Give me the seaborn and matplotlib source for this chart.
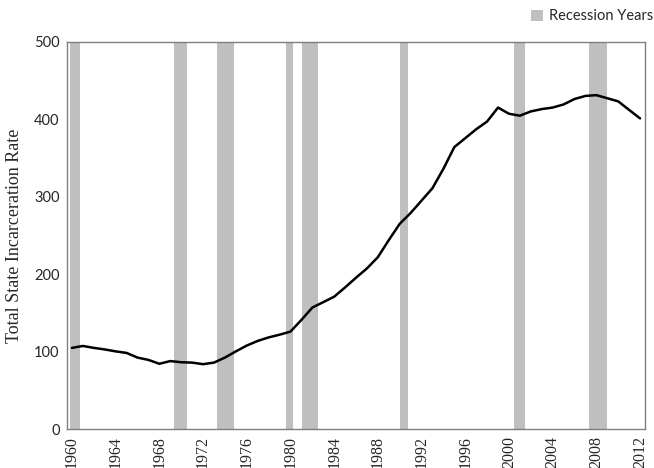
import numpy as np
import pandas as pd
import matplotlib
matplotlib.use('Agg')
import matplotlib.pyplot as plt
import seaborn as sns
from matplotlib.patches import Patch

# State incarceration rate
years = list(range(1960, 2013))
rate = [105, 107.5, 105, 103, 100.5, 98.5, 92.5, 89.5, 84.5, 88,
        86.5, 86, 84, 86, 92.5, 100.5, 108, 114, 118.5, 122,
        126, 141, 157, 164, 171, 183, 195.5, 207.5, 222, 244,
        265, 279, 295, 311, 336, 364, 375.5, 387, 397, 415,
        407, 404.5, 410, 413, 415, 419, 426, 430, 431, 427,
        423, 412, 401]

# recession periods (start, end) on the year axis
rec_start = [1959.78, 1969.30, 1973.27, 1979.58, 1981.04, 1990.01, 2000.47, 2007.30]
rec_end = [1960.76, 1970.52, 1974.79, 1980.25, 1982.51, 1990.77, 2001.50, 2008.95]

tick_years = list(range(1960, 2013, 4))
y_ticks = [0, 100, 200, 300, 400, 500]

df = pd.DataFrame({'year': years, 'rate': rate})

sns.set_style('white')
rec_color = '#bfbfbf'

fig = plt.figure(figsize=(6.54, 4.68), dpi=100)
ax = fig.add_axes([0.1017, 0.0827, 0.8853, 0.8283])

for s, e in zip(rec_start, rec_end):
    ax.axvspan(s, e, color=rec_color, lw=0, zorder=1)

sns.lineplot(data=df, x='year', y='rate', color='black', linewidth=1.8, ax=ax, zorder=3)

ax.set_xlim(1959.5, 2012.5)
ax.set_ylim(0, 500)
ax.set_xticks(tick_years)
ax.set_xticklabels([str(y) for y in tick_years], rotation=90,
                   family='Liberation Serif', fontsize=11.5)
ax.set_yticks(y_ticks)
ax.set_yticklabels([str(v) for v in y_ticks], family='Lato', fontsize=10.5)
ax.tick_params(axis='both', length=0, pad=5)
ax.set_xlabel('')
ax.set_ylabel('Total State Incarceration Rate', family='Liberation Serif',
              fontsize=13, labelpad=8)

for sp in ax.spines.values():
    sp.set_visible(True)
    sp.set_color('#7f7f7f')
    sp.set_linewidth(1.0)

handle = Patch(facecolor=rec_color, edgecolor='none')
fig.legend([handle], ['Recession Years'], loc='center left',
           bbox_to_anchor=(0.792, 0.965), frameon=False,
           prop={'family': 'Lato', 'size': 10.5},
           handlelength=0.8, handleheight=0.8, handletextpad=0.4)

fig.savefig('out.png', dpi=100)
